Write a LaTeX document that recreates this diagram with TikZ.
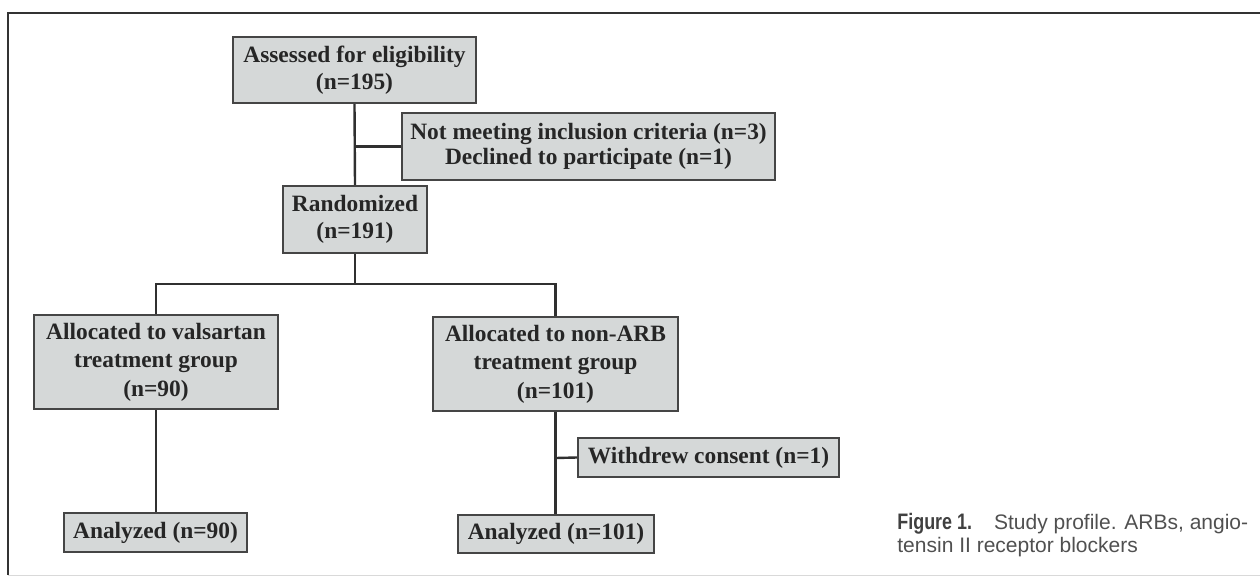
\documentclass[tikz,border=0pt]{standalone}
\usepackage{fontspec}
\usepackage{graphicx}
\setmainfont{Liberation Serif}
\setsansfont{Liberation Sans}
\definecolor{boxfill}{HTML}{D5D8D8}
\definecolor{boxline}{HTML}{454545}
\definecolor{conn}{HTML}{303030}
\definecolor{captxt}{HTML}{505050}
\begin{document}
\begin{tikzpicture}[x=0.5pt,y=-0.5pt,
  flowbox/.style={draw=boxline,fill=boxfill,line width=1.1pt,inner sep=0pt,
    align=center,font=\fontsize{11.7}{13.5}\selectfont\bfseries,text=black!85},
  link/.style={draw=conn,line width=1.2pt}]
\useasboundingbox (0,0) rectangle (1260,577);
% frame
\draw[line width=1.4pt,draw=black!80] (1260,13) -- (8,13) -- (8,575);
\draw[line width=0.8pt,draw=black!15] (8,575.5) -- (1260,575.5);
% nodes
\node[flowbox,minimum width=121.5pt,minimum height=33pt] (assess) at (354.5,70) {Assessed for eligibility\\(n=195)};
\node[flowbox,minimum width=186.5pt,minimum height=33.5pt] (notmeet) at (588.5,146.5) {Not meeting inclusion criteria (n=3)\\[-1pt]Declined to participate (n=1)};
\node[flowbox,minimum width=72pt,minimum height=33.5pt] (rand) at (355,219.5) {Randomized\\(n=191)};
\node[flowbox,minimum width=122pt,minimum height=47pt] (vals) at (156,362) {Allocated to valsartan\\[0.7pt]treatment group\\[0.7pt](n=90)};
\node[flowbox,minimum width=122.5pt,minimum height=47pt] (nonarb) at (555.5,364) {Allocated to non-ARB\\[0.7pt]treatment group\\[0.7pt](n=101)};
\node[flowbox,minimum width=130.5pt,minimum height=19.5pt] (withdrew) at (708.5,457.5) {Withdrew consent (n=1)};
\node[flowbox,minimum width=91.5pt,minimum height=19.5pt] (an90) at (155.5,532.5) {Analyzed (n=90)};
\node[flowbox,minimum width=98pt,minimum height=19pt] (an101) at (556,534) {Analyzed (n=101)};
% connectors
\coordinate (j1) at (355,146.5);
\coordinate (split) at (355,284);
\coordinate (j2) at (556,458);
\draw[link] (assess.south) -- (rand.north);
\draw[link] (j1) -- (notmeet.west);
\draw[link] (rand.south) -- (split);
\draw[link] (vals.north) |- (split) -| (nonarb.north);
\draw[link] (vals.south) -- (vals.south |- an90.north);
\draw[link] (nonarb.south) -- (nonarb.south |- an101.north);
\draw[link] (j2) -- (withdrew.west);
% caption
\node[anchor=north west,inner sep=0pt,align=left,text=captxt,
  font=\sffamily\fontsize{10.5}{11.5}\selectfont] (cap) at (897,513)
  {{\color{black!75}\fontsize{11.2}{11.5}\selectfont\scalebox{0.8}[1]{\textbf{Figure 1.}}}\hspace{11pt}Study profile. ARBs, angio-\\tensin II receptor blockers};
\end{tikzpicture}
\end{document}
